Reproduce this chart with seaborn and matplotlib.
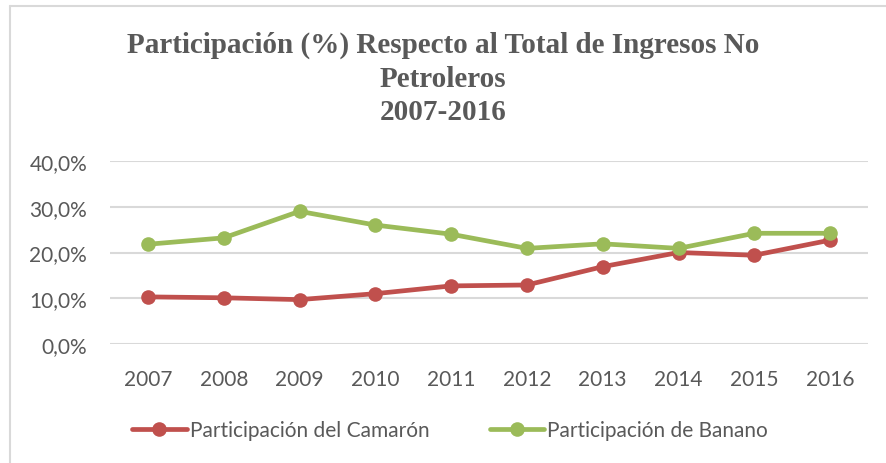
import matplotlib
matplotlib.use("Agg")
import matplotlib.pyplot as plt
import seaborn as sns
import pandas as pd
from matplotlib.lines import Line2D

years = ["2007", "2008", "2009", "2010", "2011", "2012", "2013", "2014", "2015", "2016"]
camaron = [10.3, 10.1, 9.7, 11.0, 12.7, 12.9, 16.9, 20.0, 19.4, 22.7]
banano = [21.8, 23.2, 29.0, 26.0, 24.0, 20.9, 21.9, 20.9, 24.2, 24.2]
series_names = ["Participación del Camarón", "Participación de Banano"]
yticks = [0, 10, 20, 30, 40]
ytick_labels = ["0,0%", "10,0%", "20,0%", "30,0%", "40,0%"]
title = "Participación (%) Respecto al Total de Ingresos No\nPetroleros\n2007-2016"

colors = ["#C0504D", "#9BBB59"]
text_color = "#595959"

df = pd.DataFrame({
    "year": years * 2,
    "value": camaron + banano,
    "serie": [series_names[0]] * len(years) + [series_names[1]] * len(years),
})

sns.set_theme(style="white")
plt.rcParams["font.family"] = ["Lato", "DejaVu Sans"]

fig = plt.figure(figsize=(8.86, 4.64), dpi=100)
ax = fig.add_axes([110 / 886, 1 - 345 / 464, 758 / 886, 183 / 464])

sns.lineplot(data=df, x="year", y="value", hue="serie", palette=colors,
             marker="o", markersize=10.5, markeredgewidth=0, linewidth=3.4,
             sort=False, ax=ax, legend=False)

ax.set_xlim(-0.5, 9.5)
ax.set_ylim(0, 40)
ax.set_yticks(yticks)
ax.set_yticklabels(ytick_labels)
for y in yticks:
    ax.axhline(y, color="#d9d9d9", lw=1.5, zorder=0)
for s in ax.spines.values():
    s.set_visible(False)
ax.set_xlabel("")
ax.set_ylabel("")
ax.tick_params(axis="both", length=0, labelsize=15, colors=text_color)
ax.tick_params(axis="y", pad=16.5)
ax.tick_params(axis="x", pad=18)

fig.text(0.5, 1 - 79 / 464, title, ha="center", va="center", fontsize=21,
         fontweight="bold", family=["Liberation Serif"], color=text_color,
         linespacing=1.3)

handles = [Line2D([0], [0], color=c, lw=3.4, marker="o", markersize=10.5,
                  markeredgewidth=0) for c in colors]
fig.legend(handles, series_names, loc="center", bbox_to_anchor=(0.508, 1 - 431 / 464),
           ncol=2, frameon=False, fontsize=15, labelcolor=text_color,
           handlelength=2.6, handletextpad=0.15, columnspacing=2.9)

# outer chart border (left and top visible)
fig.add_artist(Line2D([10 / 886, 10 / 886], [0, 1 - 7 / 464], color="#d9d9d9", lw=1.5,
                      transform=fig.transFigure))
fig.add_artist(Line2D([10 / 886, 1], [1 - 7 / 464, 1 - 7 / 464], color="#d9d9d9", lw=1.5,
                      transform=fig.transFigure))

fig.savefig("out.png", dpi=100)
